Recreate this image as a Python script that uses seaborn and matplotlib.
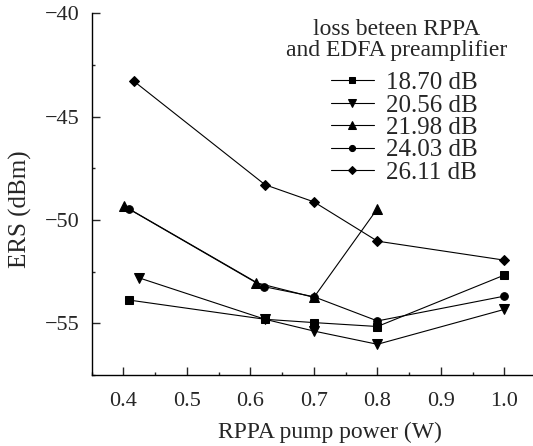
import numpy as np
import pandas as pd
import matplotlib
matplotlib.use('Agg')
import matplotlib.pyplot as plt
import seaborn as sns
from matplotlib.ticker import MultipleLocator

# data
labels = ['18.70 dB', '20.56 dB', '21.98 dB', '24.03 dB', '26.11 dB']
markers = ['s', 'v', '^', 'o', 'D']
msizes = [6, 7, 7, 5.5, 5]

x_1870 = [0.409, 0.623, 0.70, 0.80, 1.00]
y_1870 = [-53.87, -54.80, -54.96, -55.15, -52.66]

x_2056 = [0.424, 0.623, 0.70, 0.80, 1.00]
y_2056 = [-52.79, -54.80, -55.37, -56.01, -54.32]

x_2198 = [0.401, 0.609, 0.70, 0.80]
y_2198 = [-49.33, -53.03, -53.74, -49.45]

x_2403 = [0.409, 0.621, 0.70, 0.80, 1.00]
y_2403 = [-49.46, -53.22, -53.71, -54.88, -53.68]

x_2611 = [0.416, 0.623, 0.70, 0.80, 1.00]
y_2611 = [-43.27, -48.29, -49.12, -51.02, -51.94]

xs = [x_1870, x_2056, x_2198, x_2403, x_2611]
ys = [y_1870, y_2056, y_2198, y_2403, y_2611]

sns.set_style('ticks')
plt.rcParams['font.family'] = ['Liberation Serif', 'DejaVu Serif']

fig = plt.figure(figsize=(5.33, 4.46), dpi=100)
# axes runs past the right edge like in the cropped original
ax = fig.add_axes([0.172, 0.159, 0.8935, 0.811])

for x, y, lab, m, ms in zip(xs, ys, labels, markers, msizes):
    df = pd.DataFrame({'x': x, 'y': y})
    sns.lineplot(data=df, x='x', y='y', ax=ax, color='black', linewidth=0.8,
                 marker=m, markersize=ms, markeredgecolor='black',
                 markerfacecolor='black', sort=False, estimator=None, label=lab)

ax.set_xlim(0.35, 1.1)
ax.set_ylim(-57.5, -40)
ax.set_xticks([0.4, 0.5, 0.6, 0.7, 0.8, 0.9, 1.0])
ax.set_yticks([-40, -45, -50, -55])
ax.xaxis.set_minor_locator(MultipleLocator(0.05))
ax.yaxis.set_minor_locator(MultipleLocator(2.5))
ax.tick_params(which='major', direction='in', length=5.5, width=1, labelsize=16, pad=12)
ax.tick_params(which='minor', direction='in', length=2.5, width=1)
ax.tick_params(axis='y', pad=9)
ax.set_xticklabels(['0.4', '0.5', '0.6', '0.7', '0.8', '0.9', '1.0'])
ax.set_yticklabels(['\u221240', '\u221245', '\u221250', '\u221255'])

for s in ['top', 'right']:
    ax.spines[s].set_visible(False)
for s in ['left', 'bottom']:
    ax.spines[s].set_linewidth(1)
    ax.spines[s].set_color('black')

ax.set_xlabel('RPPA pump power (W)', fontsize=17)
ax.xaxis.set_label_coords(0.5, -0.13)
ax.set_ylabel('ERS (dBm)', fontsize=18)
ax.yaxis.label.set_verticalalignment('center')
ax.yaxis.label.set_horizontalalignment('center')
ax.yaxis.set_label_coords(-0.1506, 0.459)

# legend title as its own text, entries below it
fig.text(397 / 533, 1 - 19 / 446, 'loss beteen RPPA\nand EDFA preamplifier',
         ha='center', va='top', multialignment='center', fontsize=17,
         linespacing=1.0)
ax.legend(frameon=False, loc='upper left',
          bbox_to_anchor=(331 / 533, 1 - 71.5 / 446),
          bbox_transform=fig.transFigure, borderaxespad=0, borderpad=0,
          fontsize=18, handlelength=1.7, handletextpad=0.5,
          labelspacing=0.0, markerscale=0.8)

fig.savefig('out.png', dpi=100)
